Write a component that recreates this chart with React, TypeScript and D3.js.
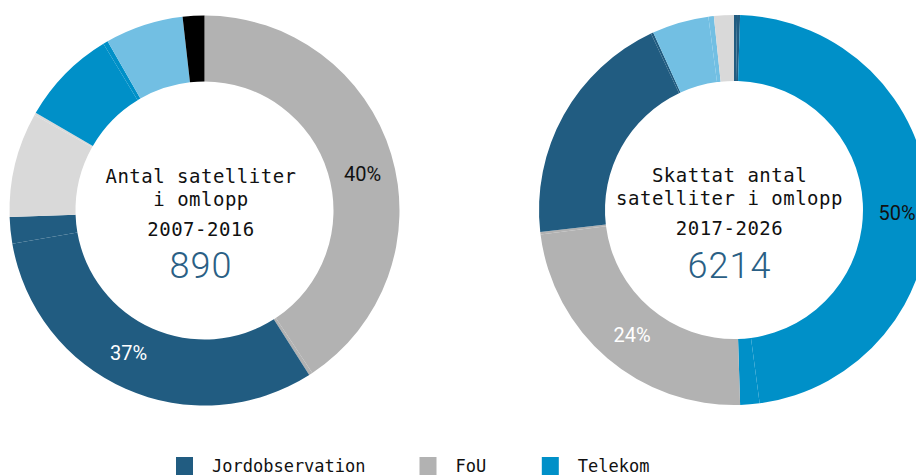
import React from "react";
import * as d3 from "d3";

// ---- Data ----
const leftKeys = ["fou", "fou", "jord", "jord", "ljusgra", "ljusgra", "telekom", "telekom", "ljusbla", "svart"];
const leftValues = [40.8, 0.3, 31.4, 2.2, 8.7, 0.2, 8.0, 0.4, 6.5, 1.8];

const rightKeys = ["jord", "jord", "telekom", "telekom", "fou", "fou", "jord", "jord", "ljusbla", "ljusbla", "ljusgra"];
const rightValues = [0.25, 0.25, 47.4, 1.6, 23.5, 0.2, 19.8, 0.2, 4.7, 0.45, 1.65];

const leftTitle = ["Antal satelliter", "i omlopp", "2007-2016"];
const leftTotal = "890";
const rightTitle = ["Skattat antal", "satelliter i omlopp", "2017-2026"];
const rightTotal = "6214";

const leftLabels = [
  { text: "40%", key: "fou", color: "#111" },
  { text: "37%", key: "jord", color: "#fff" },
];
const rightLabels = [
  { text: "50%", key: "telekom", color: "#111" },
  { text: "24%", key: "fou", color: "#fff" },
];

const legendNames = ["Jordobservation", "FoU", "Telekom"];
const legendKeys = ["jord", "fou", "telekom"];

const colorMap: Record<string, string> = {
  jord: "#215c81",
  fou: "#b2b2b2",
  telekom: "#0090c8",
  ljusbla: "#72bfe3",
  ljusgra: "#d9d9d9",
  svart: "#000000",
};

const W = 916;
const H = 475;
const OUTER = 195;
const INNER = 129;
const MONO = "'DejaVu Sans Mono', 'Liberation Mono', monospace";
const SANS = "Roboto, 'Open Sans', sans-serif";

type DonutProps = {
  cx: number;
  cy: number;
  keys: string[];
  values: number[];
  title: string[];
  total: string;
  labels: { text: string; key: string; color: string }[];
  labelPos: [number, number][];
  textDx: number;
};

function Donut({ cx, cy, keys, values, title, total, labels, labelPos, textDx }: DonutProps) {
  const pie = d3.pie<number>().sort(null).value((d) => d);
  const arcs = pie(values);
  const arc = d3.arc<d3.PieArcDatum<number>>().innerRadius(INNER).outerRadius(OUTER);
  return (
    <g transform={`translate(${cx},${cy})`}>
      {arcs.map((a, i) => (
        <path key={i} d={arc(a) || ""} fill={colorMap[keys[i]]} />
      ))}
      {labels.map((l, i) => (
        <text
          key={"l" + i}
          x={labelPos[i][0]}
          y={labelPos[i][1]}
          fill={l.color}
          fontFamily={SANS}
          fontSize={20}
          textAnchor="middle"
        >
          {l.text}
        </text>
      ))}
      <text x={textDx} y={-28} textAnchor="middle" fontFamily={MONO} fontSize={19} letterSpacing={0.5} fill="#111">
        {title[0]}
      </text>
      <text x={textDx} y={-5} textAnchor="middle" fontFamily={MONO} fontSize={19} letterSpacing={0.5} fill="#111">
        {title[1]}
      </text>
      <text x={textDx} y={25} textAnchor="middle" fontFamily={MONO} fontSize={19} letterSpacing={0.5} fill="#111">
        {title[2]}
      </text>
      <text x={textDx} y={67.5} textAnchor="middle" fontFamily={SANS} fontWeight={300} fontSize={36} letterSpacing={1} fill="#2a5f85">
        {total}
      </text>
    </g>
  );
}

export default function App() {
  const charW = 10.1;
  let x = 176;
  const legendItems = legendNames.map((name, i) => {
    const item = { name, key: legendKeys[i], x };
    x += 35 + name.length * charW + 57;
    return item;
  });
  return (
    <svg
      width={W}
      height={H}
      style={{ position: "absolute", left: 0, top: 0, background: "#fff", overflow: "hidden" }}
    >
      <Donut
        cx={204.5}
        cy={210.5}
        keys={leftKeys}
        values={leftValues}
        title={leftTitle}
        total={leftTotal}
        labels={leftLabels}
        labelPos={[[158, -29.5], [-76, 149.5]]}
        textDx={-3.5}
      />
      <Donut
        cx={734}
        cy={210}
        keys={rightKeys}
        values={rightValues}
        title={rightTitle}
        total={rightTotal}
        labels={rightLabels}
        labelPos={[[163, 10], [-102, 132]]}
        textDx={-4.5}
      />
      {legendItems.map((it, i) => (
        <g key={i}>
          <rect x={it.x} y={457} width={17} height={18} fill={colorMap[it.key]} />
          <text x={it.x + 36} y={471.5} fontFamily={MONO} fontSize={17} letterSpacing={0} fill="#111">
            {it.name}
          </text>
        </g>
      ))}
    </svg>
  );
}
